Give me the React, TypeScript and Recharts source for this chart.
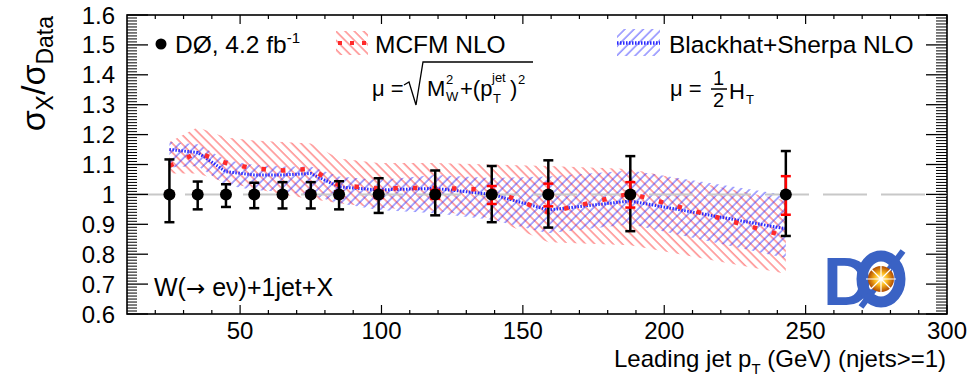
import React from 'react'
import {
  ComposedChart, Area, Line, Scatter, ErrorBar, XAxis, YAxis, ReferenceLine,
} from 'recharts'

// leading jet pT bin centres (GeV)
const ptBins = [25, 35, 45, 55, 65, 75, 85, 99, 119, 139, 159, 188, 243]

// data / data
const dataRatio = [1, 1, 1, 1, 1, 1, 1, 1, 1, 1, 1, 1, 1]
const totErrUp = [0.117, 0.043, 0.034, 0.039, 0.041, 0.041, 0.044, 0.054, 0.08, 0.095, 0.114, 0.128, 0.145]
const totErrDown = [0.093, 0.05, 0.042, 0.046, 0.047, 0.047, 0.05, 0.062, 0.07, 0.093, 0.111, 0.123, 0.139]
const statErrUp = [0.005, 0.005, 0.005, 0.006, 0.007, 0.008, 0.01, 0.012, 0.015, 0.028, 0.036, 0.041, 0.061]
const statErrDown = [0.005, 0.005, 0.005, 0.006, 0.007, 0.008, 0.01, 0.012, 0.015, 0.032, 0.04, 0.044, 0.068]

// MCFM NLO / data
const mcfmCentral = [1.095, 1.14, 1.105, 1.087, 1.08, 1.085, 1.03, 1.02, 1.022, 1.015, 0.94, 1.003, 0.86]
const mcfmLow = [1.07, 1.07, 1.04, 1.02, 1.0, 0.985, 0.97, 0.955, 0.945, 0.92, 0.84, 0.83, 0.735]
const mcfmHigh = [1.175, 1.225, 1.19, 1.18, 1.175, 1.17, 1.12, 1.105, 1.105, 1.1, 1.095, 1.085, 0.98]

// Blackhat+Sherpa NLO / data
const bhsCentral = [1.15, 1.14, 1.076, 1.065, 1.065, 1.07, 1.025, 1.015, 1.02, 1.0, 0.948, 0.978, 0.885]
const bhsLow = [1.09, 1.095, 1.031, 1.015, 1.009, 0.998, 0.97, 0.948, 0.937, 0.915, 0.87, 0.9, 0.787]
const bhsHigh = [1.175, 1.168, 1.115, 1.098, 1.093, 1.093, 1.06, 1.048, 1.065, 1.055, 1.06, 1.08, 0.998]

const xMajorTicks = [50, 100, 150, 200, 250, 300]
const xMinorTicks = [20, 30, 40, 60, 70, 80, 90, 110, 120, 130, 140, 160, 170, 180, 190, 210, 220, 230, 240, 260, 270, 280, 290]
const yMajorTicks = [0.6, 0.7, 0.8, 0.9, 1, 1.1, 1.2, 1.3, 1.4, 1.5, 1.6]
const yMinorTicks = Array.from({ length: 101 }, (_, i) => Math.round((0.6 + i * 0.01) * 100) / 100)

const X_DOMAIN = [10, 300]
const Y_DOMAIN = [0.6, 1.6]

const rows = ptBins.map((pt, i) => ({
  pt,
  ratio: dataRatio[i],
  errTot: [totErrDown[i], totErrUp[i]],
  errStat: [statErrDown[i], statErrUp[i]],
  mcfm: mcfmCentral[i],
  mcfmBand: [mcfmLow[i], mcfmHigh[i]],
  bhs: bhsCentral[i],
  bhsBand: [bhsLow[i], bhsHigh[i]],
}))

// layout
const W = 967
const H = 380
const MARGIN = { top: 15, right: 20, bottom: 26, left: 67 }
const Y_AXIS_W = 60
const X_AXIS_H = 40
const PLOT_X = MARGIN.left + Y_AXIS_W
const PLOT_Y = MARGIN.top
const PLOT_W = W - PLOT_X - MARGIN.right
const PLOT_H = H - MARGIN.top - MARGIN.bottom - X_AXIS_H

const FONT = "'Liberation Sans', Arial, Helvetica, sans-serif"
const RED = '#ff2a2a'
const BLUE = '#2a2aff'
const LOGO = '#3a62c4'

const noShape = () => <g />
const dotShape = (p: any) => <circle cx={p.cx} cy={p.cy} r={6} fill="#000" />

// ROOT-style ticks: inward marks on both sides of the frame, labels on major ticks only
const XTick = (p: any) => {
  const { x, y, payload } = p
  const major = xMajorTicks.includes(payload.value)
  const len = major ? 9 : 4
  return (
    <g>
      <line x1={x} x2={x} y1={y} y2={y - len} stroke="#000" strokeWidth={1.2} />
      <line x1={x} x2={x} y1={y - PLOT_H} y2={y - PLOT_H + len} stroke="#000" strokeWidth={1.2} />
      {major && (
        <text x={x} y={y + 8} dy="0.71em" textAnchor="middle" fontSize={24} fill="#000">{payload.value}</text>
      )}
    </g>
  )
}

const YTick = (p: any) => {
  const { x, y, payload } = p
  const major = yMajorTicks.includes(payload.value)
  return (
    <g>
      <line x1={x} x2={x + (major ? 21 : 10)} y1={y} y2={y} stroke="#000" strokeWidth={major ? 1.3 : 1} />
      <line x1={x + PLOT_W} x2={x + PLOT_W - (major ? 21 : 11)} y1={y} y2={y} stroke="#000" strokeWidth={major ? 1.3 : 1} />
      {major && (
        <text x={x - 12} y={y} dy="0.355em" textAnchor="end" fontSize={24} fill="#000">{payload.value}</text>
      )}
    </g>
  )
}

function Overlay() {
  return (
    <g fontFamily={FONT} fill="#000">
      {/* frame */}
      <rect x={PLOT_X} y={PLOT_Y} width={PLOT_W} height={PLOT_H} fill="none" stroke="#000" strokeWidth={1.6} />

      {/* y title */}
      <text transform="translate(45,16) rotate(-90)" textAnchor="end" fontSize={34}>
        σ<tspan fontSize={23} dy={8}>X</tspan><tspan dy={-8}>/σ</tspan><tspan fontSize={23} dy={8}>Data</tspan>
      </text>
      {/* x title */}
      <text x={946} y={367} textAnchor="end" fontSize={24}>
        Leading jet p<tspan fontSize={15} dy={7}>T</tspan><tspan dy={-7}> (GeV) (njets&gt;=1)</tspan>
      </text>

      {/* legend: data */}
      <circle cx={161} cy={44} r={5.5} fill="#000" />
      <text x={175} y={53} fontSize={24.5}>
        DØ, 4.2 fb<tspan fontSize={15} dy={-10}>-1</tspan>
      </text>

      {/* legend: MCFM */}
      <rect x={336} y={31} width={32} height={24} fill="url(#hatchRed)" />
      <line x1={338} x2={368} y1={43} y2={43} stroke={RED} strokeWidth={4} strokeDasharray="4 8" />
      <text x={375} y={53} fontSize={24.5}>MCFM NLO</text>
      <text x={372} y={96} fontSize={22}>μ =</text>
      <path d="M404 85 L409 82 L416 105 L423 62 L533 62" stroke="#000" strokeWidth={1.3} fill="none" />
      <text x={427} y={96} fontSize={22}>M</text>
      <text x={446} y={84} fontSize={13}>2</text>
      <text x={446} y={101} fontSize={13}>W</text>
      <text x={460} y={96} fontSize={22}>+(p</text>
      <text x={492} y={82} fontSize={13}>jet</text>
      <text x={493} y={103} fontSize={13}>T</text>
      <text x={510} y={96} fontSize={22}>)</text>
      <text x={518} y={84} fontSize={13}>2</text>

      {/* legend: Blackhat+Sherpa */}
      <rect x={617} y={29} width={43} height={27} fill="url(#hatchBlue)" />
      <line x1={617} x2={660} y1={43} y2={43} stroke={BLUE} strokeWidth={3.5} strokeDasharray="1.5 1.5" />
      <text x={669} y={53} fontSize={24.5}>Blackhat+Sherpa NLO</text>
      <text x={670} y={96} fontSize={22}>μ =</text>
      <text x={713} y={85} fontSize={20}>1</text>
      <line x1={711} x2={727} y1={89} y2={89} stroke="#000" strokeWidth={1.5} />
      <text x={713} y={107} fontSize={20}>2</text>
      <text x={729} y={99} fontSize={22}>H</text>
      <text x={746} y={104} fontSize={13}>T</text>

      {/* process label */}
      <text x={154} y={296} fontSize={25}>
        W(<tspan fontFamily="'DejaVu Sans'" fontSize={23}>→</tspan> eν)+1jet+X
      </text>

      {/* DØ logo */}
      <g>
        <text x={823} y={305} fontSize={68} fontWeight="bold" fill={LOGO}>D</text>
        <ellipse cx={881} cy={279} rx={19} ry={23} stroke={LOGO} strokeWidth={11} fill="none" />
        <line x1={861} y1={307} x2={903} y2={251} stroke={LOGO} strokeWidth={6} />
        <circle cx={881} cy={279} r={13} fill="url(#logoGlow)" />
        <path d="M866 279 L896 279 M881 264 L881 294 M871 269 L891 289 M871 289 L891 269" stroke="#fff" strokeWidth={1.2} />
      </g>
    </g>
  )
}

export default function App() {
  return (
    <div style={{ position: 'absolute', left: 0, top: 0, width: W, height: H, background: '#fff', fontFamily: FONT }}>
      <ComposedChart width={W} height={H} data={rows} margin={MARGIN}>
        <defs>
          <pattern id="hatchRed" width={6.5} height={6.5} patternUnits="userSpaceOnUse" patternTransform="rotate(-45)">
            <line x1={1} y1={0} x2={1} y2={6.5} stroke={RED} strokeWidth={1.1} strokeOpacity={0.75} />
          </pattern>
          <pattern id="hatchBlue" width={6.5} height={6.5} patternUnits="userSpaceOnUse" patternTransform="rotate(45)">
            <line x1={1} y1={0} x2={1} y2={6.5} stroke={BLUE} strokeWidth={1.1} strokeOpacity={0.75} />
          </pattern>
          <radialGradient id="logoGlow">
            <stop offset="0%" stopColor="#fffbe0" />
            <stop offset="45%" stopColor="#ffc020" />
            <stop offset="100%" stopColor="#b04a00" />
          </radialGradient>
        </defs>

        <XAxis xAxisId="x" dataKey="pt" type="number" domain={X_DOMAIN} ticks={[...xMinorTicks, ...xMajorTicks].sort((a, b) => a - b)}
          interval={0} height={X_AXIS_H} tickLine={false} tickSize={0} tickMargin={0} axisLine={false} tick={XTick} />
        <YAxis yAxisId="y" type="number" domain={Y_DOMAIN} ticks={yMinorTicks} interval={0} width={Y_AXIS_W}
          tickLine={false} tickSize={0} tickMargin={0} axisLine={false} tick={YTick} />

        <ReferenceLine xAxisId="x" yAxisId="y" y={1} stroke="#c8c8c8" strokeWidth={2} strokeDasharray="44 14" />

        <Area xAxisId="x" yAxisId="y" type="linear" dataKey="mcfmBand" stroke="none" fill="url(#hatchRed)" fillOpacity={1} isAnimationActive={false} />
        <Area xAxisId="x" yAxisId="y" type="linear" dataKey="bhsBand" stroke="none" fill="url(#hatchBlue)" fillOpacity={1} isAnimationActive={false} />
        <Line xAxisId="x" yAxisId="y" type="linear" dataKey="bhs" stroke={BLUE} strokeWidth={3} strokeDasharray="1.5 1.5" dot={false} isAnimationActive={false} />
        <Line xAxisId="x" yAxisId="y" type="linear" dataKey="mcfm" stroke={RED} strokeWidth={4.5} strokeDasharray="4.5 15" dot={false} isAnimationActive={false} />

        <Scatter xAxisId="x" yAxisId="y" data={rows} dataKey="ratio" shape={noShape} isAnimationActive={false}>
          <ErrorBar dataKey="errTot" direction="y" width={5} stroke="#000" strokeWidth={2.5} isAnimationActive={false} />
        </Scatter>
        <Scatter xAxisId="x" yAxisId="y" data={rows} dataKey="ratio" shape={noShape} isAnimationActive={false}>
          <ErrorBar dataKey="errStat" direction="y" width={5} stroke="#ff0000" strokeWidth={2.5} isAnimationActive={false} />
        </Scatter>
        <Scatter xAxisId="x" yAxisId="y" data={rows} dataKey="ratio" shape={dotShape} isAnimationActive={false} />

        <Overlay />
      </ComposedChart>
    </div>
  )
}
